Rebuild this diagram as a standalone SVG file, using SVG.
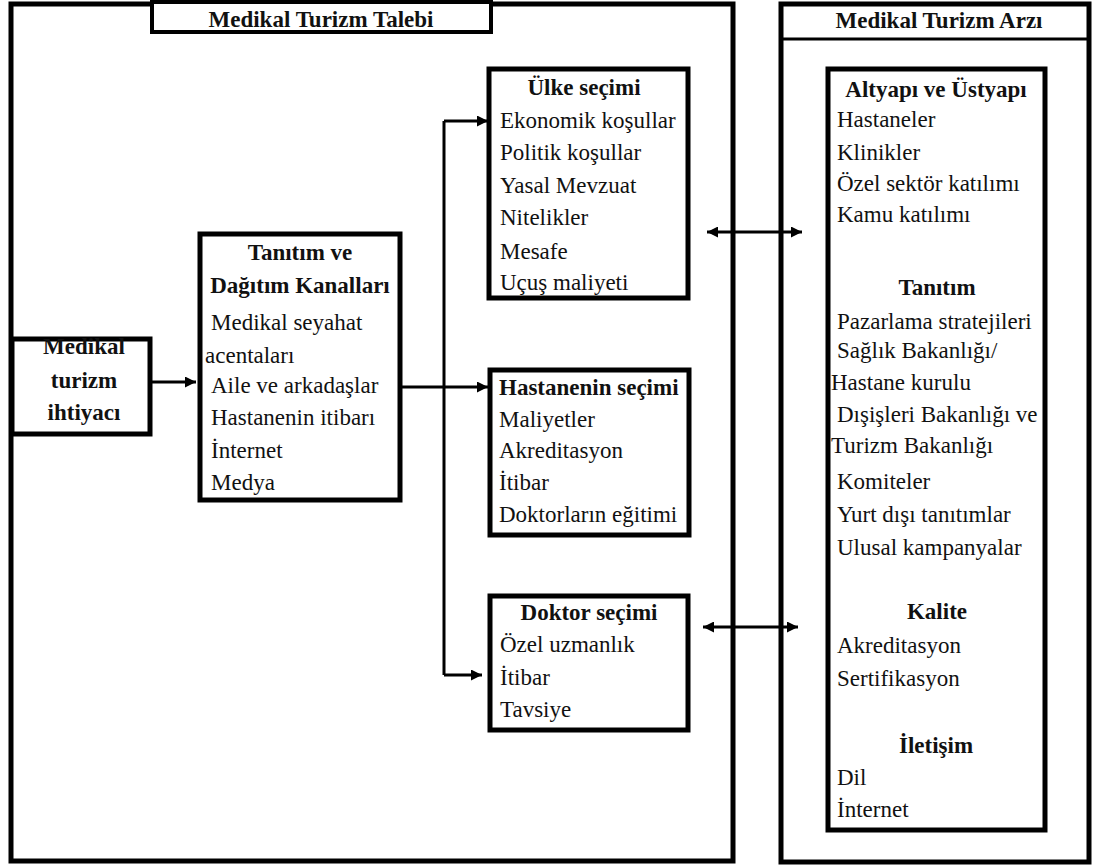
<svg xmlns="http://www.w3.org/2000/svg" width="1093" height="868" viewBox="0 0 1093 868">
  <style>
    .panel { fill: #fff; stroke: #000; stroke-width: 5; }
    .box { fill: #fff; stroke: #000; stroke-width: 5; }
    .hdr { fill: #fff; stroke: #000; stroke-width: 4; }
    .conn { fill: none; stroke: #000; stroke-width: 3; }
    text { font-family: "Liberation Serif", "Times New Roman", serif; font-size: 23px; fill: #111; }
    .b { font-weight: bold; }
    .c { text-anchor: middle; }
  </style>
  <defs>
    <marker id="arrow" viewBox="0 0 10 10" refX="10" refY="5" markerWidth="11" markerHeight="11" markerUnits="userSpaceOnUse" orient="auto-start-reverse">
      <path d="M0,0 L10,5 L0,10 z" fill="#000"/>
    </marker>
  </defs>

  <rect width="1093" height="868" fill="#fff"/>

  <!-- Demand side panel -->
  <g id="demand-panel">
    <rect class="panel" x="11" y="4" width="722" height="857"/>
    <rect class="hdr" x="152" y="2" width="339" height="30"/>
    <text class="b c" x="321" y="27">Medikal Turizm Talebi</text>
  </g>

  <!-- Supply side panel -->
  <g id="supply-panel">
    <rect class="panel" x="781" y="4" width="308" height="858"/>
    <line x1="781" y1="39" x2="1089" y2="39" stroke="#000" stroke-width="3"/>
    <text class="b c" x="939" y="28">Medikal Turizm Arzı</text>
  </g>

  <!-- Connectors -->
  <g id="connectors">
    <path class="conn" d="M150,382 H196" marker-end="url(#arrow)"/>
    <path class="conn" d="M400,387 H488" marker-end="url(#arrow)"/>
    <path class="conn" d="M444,121 V675"/>
    <path class="conn" d="M444,121 H488" marker-end="url(#arrow)"/>
    <path class="conn" d="M444,675 H482" marker-end="url(#arrow)"/>
    <path class="conn" d="M707,232 H802" marker-start="url(#arrow)" marker-end="url(#arrow)"/>
    <path class="conn" d="M703,627 H798" marker-start="url(#arrow)" marker-end="url(#arrow)"/>
  </g>

  <g id="need">
    <rect class="box" x="12" y="339" width="138" height="95"/>
    <text class="b c" x="84" y="354">Medikal</text>
    <text class="b c" x="84" y="388">turizm</text>
    <text class="b c" x="84" y="420">ihtiyacı</text>
  </g>

  <g id="channels">
    <rect class="box" x="200" y="234" width="200" height="266"/>
    <text class="b c" x="300" y="260">Tanıtım ve</text>
    <text class="b c" x="300" y="293">Dağıtım Kanalları</text>
    <text x="211" y="330">Medikal seyahat</text>
    <text x="205" y="363">acentaları</text>
    <text x="211" y="393">Aile ve arkadaşlar</text>
    <text x="211" y="425">Hastanenin itibarı</text>
    <text x="211" y="458">İnternet</text>
    <text x="211" y="490">Medya</text>
  </g>

  <g id="country">
    <rect class="box" x="489" y="69" width="199" height="229"/>
    <text class="b c" x="584" y="95">Ülke seçimi</text>
    <text x="500" y="128">Ekonomik koşullar</text>
    <text x="500" y="160">Politik koşullar</text>
    <text x="500" y="193">Yasal Mevzuat</text>
    <text x="500" y="225">Nitelikler</text>
    <text x="500" y="259">Mesafe</text>
    <text x="500" y="290">Uçuş maliyeti</text>
  </g>

  <g id="hospital">
    <rect class="box" x="490" y="370" width="199" height="165"/>
    <text class="b" x="499" y="395">Hastanenin seçimi</text>
    <text x="499" y="427">Maliyetler</text>
    <text x="499" y="458">Akreditasyon</text>
    <text x="499" y="490">İtibar</text>
    <text x="499" y="522">Doktorların eğitimi</text>
  </g>

  <g id="doctor">
    <rect class="box" x="490" y="596" width="198" height="134"/>
    <text class="b c" x="589" y="620">Doktor seçimi</text>
    <text x="500" y="652">Özel uzmanlık</text>
    <text x="500" y="685">İtibar</text>
    <text x="500" y="717">Tavsiye</text>
  </g>

  <g id="supply-factors">
    <rect class="box" x="828" y="69" width="217" height="761"/>
    <text class="b c" x="936" y="97">Altyapı ve Üstyapı</text>
    <text x="837" y="127">Hastaneler</text>
    <text x="837" y="160">Klinikler</text>
    <text x="837" y="191">Özel sektör katılımı</text>
    <text x="837" y="222">Kamu katılımı</text>

    <text class="b c" x="937" y="295">Tanıtım</text>
    <text x="837" y="329">Pazarlama stratejileri</text>
    <text x="837" y="358">Sağlık Bakanlığı/</text>
    <text x="831" y="390">Hastane kurulu</text>
    <text x="837" y="422">Dışişleri Bakanlığı ve</text>
    <text x="831" y="453">Turizm Bakanlığı</text>
    <text x="837" y="489">Komiteler</text>
    <text x="837" y="522">Yurt dışı tanıtımlar</text>
    <text x="837" y="555">Ulusal kampanyalar</text>

    <text class="b c" x="937" y="619">Kalite</text>
    <text x="837" y="653">Akreditasyon</text>
    <text x="837" y="686">Sertifikasyon</text>

    <text class="b c" x="936" y="753">İletişim</text>
    <text x="837" y="785">Dil</text>
    <text x="837" y="817">İnternet</text>
  </g>
</svg>
